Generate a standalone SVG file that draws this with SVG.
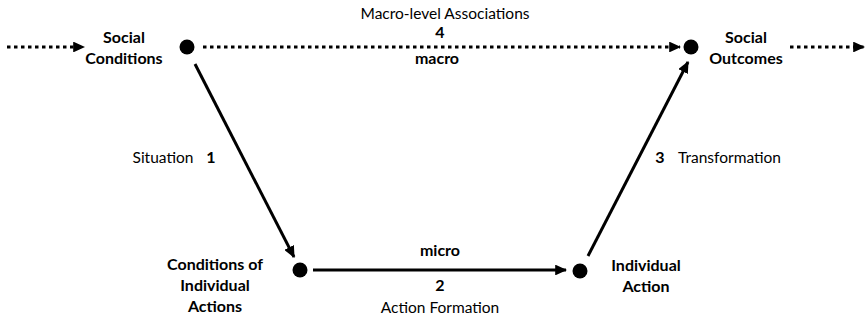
<svg xmlns="http://www.w3.org/2000/svg" width="866" height="325" viewBox="0 0 866 325">
<style>
text{font-family:Lato,"Open Sans","Liberation Sans",sans-serif;fill:#000;text-anchor:middle}
.b{font-weight:bold;font-size:16px}
.r{font-size:15.5px}
.dot{stroke:#000;stroke-width:3;stroke-dasharray:3.5 3.5;fill:none}
.sol{stroke:#000;stroke-width:3;fill:none}
</style>
<defs>
<marker id="ah" viewBox="0 0 10 10" refX="9" refY="5" markerWidth="4" markerHeight="3.6" markerUnits="strokeWidth" orient="auto" preserveAspectRatio="none">
<path d="M0,0 L10,5 L0,10 z" fill="#000"/>
</marker>
</defs>
<rect width="866" height="325" fill="#fff"/>
<g id="connectors">
<line class="dot" x1="7" y1="47" x2="84" y2="47" marker-end="url(#ah)"/>
<line class="dot" x1="203" y1="47" x2="680" y2="47" marker-end="url(#ah)"/>
<line class="dot" x1="790" y1="47" x2="864" y2="47" marker-end="url(#ah)"/>
<line class="sol" x1="195" y1="64" x2="294" y2="257" marker-end="url(#ah)"/>
<line class="sol" x1="313" y1="270" x2="566" y2="270" marker-end="url(#ah)"/>
<line class="sol" x1="588" y1="256" x2="688" y2="62" marker-end="url(#ah)"/>
</g>
<g id="social-conditions">
<circle cx="187" cy="47" r="7.5"/>
<text class="b" x="124" y="43">Social</text>
<text class="b" x="124" y="64">Conditions</text>
</g>
<g id="social-outcomes">
<circle cx="691" cy="47" r="7.5"/>
<text class="b" x="746" y="43">Social</text>
<text class="b" x="746" y="64">Outcomes</text>
</g>
<g id="conditions-individual-actions">
<circle cx="300" cy="270" r="7.5"/>
<text class="b" x="215" y="270">Conditions of</text>
<text class="b" x="215" y="291">Individual</text>
<text class="b" x="215" y="312">Actions</text>
</g>
<g id="individual-action">
<circle cx="580" cy="271" r="7.5"/>
<text class="b" x="646" y="271">Individual</text>
<text class="b" x="646" y="292">Action</text>
</g>
<g id="labels">
<text class="r" x="445" y="19">Macro-level Associations</text>
<text class="b" x="440" y="38">4</text>
<text class="b" x="437" y="64">macro</text>
<text class="r" x="163" y="163">Situation</text>
<text class="b" x="211" y="163">1</text>
<text class="b" x="660" y="163">3</text>
<text class="r" x="678" y="163" style="text-anchor:start">Transformation</text>
<text class="b" x="440" y="256">micro</text>
<text class="b" x="440" y="291">2</text>
<text class="r" x="440" y="313">Action Formation</text>
</g>
</svg>
